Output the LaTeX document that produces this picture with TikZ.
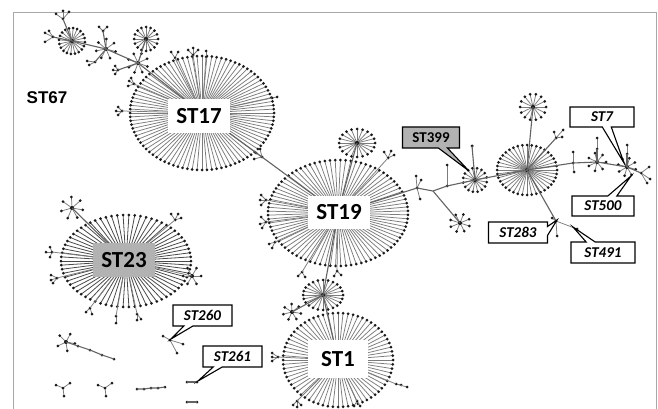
\documentclass[tikz,border=0pt]{standalone}
\usepackage{fontspec}
\setmainfont{Carlito}
\newfontfamily\arialf{Liberation Sans}
\usetikzlibrary{shapes.callouts}
\definecolor{spk}{HTML}{7C7C7C}
\definecolor{dspk}{HTML}{4A4A4A}
\definecolor{lblgray}{HTML}{B2B2B2}
\definecolor{frm}{HTML}{A8A8A8}
\definecolor{dotc}{HTML}{1A1A1A}
\tikzset{
  spoke/.style={draw=spk, line width=0.75pt},
  link/.style={draw=spk!80!black, line width=1.1pt},
  frameline/.style={draw=frm, line width=0.9pt},
  biglbl/.style={font=\bfseries\fontsize{23}{23}\selectfont, inner sep=0pt, text height=15pt, text depth=0pt},
  cbox/.style={rectangle callout, draw=black, line width=1.1pt, fill=white, inner sep=0pt,
     minimum width=60pt, minimum height=20pt, callout pointer width=9pt,
     font=\bfseries\itshape\fontsize{15}{15}\selectfont},
}
\newcommand\hubstar[8][spoke]{% name x y n rx ry phase
  \coordinate (#2) at (#3,#4);
  \foreach \k in {1,...,#5}{%
    \pgfmathsetmacro\ang{#8+\k*(360/#5)}
    \path (#2) ++(\ang:#6 and #7) coordinate (tp);
    \draw[#1] (#2) -- (tp);
    \fill[dotc] (tp) circle (1.5);
  }
  \fill[dotc] (#2) circle (2);
}
\newcommand\twigs[4]{% name x y list of offsets
  \coordinate (#1) at (#2,#3);
  \foreach \dx/\dy in {#4}{%
    \draw[spoke] (#1) -- ++(\dx,\dy) coordinate (tp);
    \fill[dotc] (tp) circle (1.5);
  }
  \fill[dotc] (#1) circle (1.5);
}
\newcommand\leafdot[3]{\coordinate (#1) at (#2,#3); \fill[dotc] (#1) circle (1.5);}
\begin{document}
\begin{tikzpicture}[x=1pt,y=-1pt]
\useasboundingbox (0,0) rectangle (658,409);
\clip (0,0) rectangle (658,409);
\fill[white] (0,0) rectangle (658,409);
\draw[frameline] (13,412) -- (13,12) -- (656,12) -- (656,412);

% ---------- upper-left cluster ----------
\hubstar{A}{72}{41}{20}{13}{13}{5}
\twigs{A1}{53}{37}{-8/-4,-8/5,-4/-6}
\twigs{A2}{63}{19}{-7/-5,6/-7,0/-8}
\hubstar{B}{106}{49}{7}{10}{10}{15}
\twigs{B1}{103}{31}{-4/-4,4/-4}
\twigs{B2}{95}{62}{-6/3,-8/-1}
\hubstar{C}{146}{39}{16}{12}{12}{0}
\hubstar{D}{138}{63}{8}{10}{10}{20}
\twigs{D1}{118}{70}{-5/0,-3/4,-3/-4}
\draw[link] (A) -- (A1);
\draw[link] (A) -- (A2);
\draw[link] (A) -- (B);
\draw[link] (B) -- (B1);
\draw[link] (B) -- (B2);
\draw[link] (B) -- (D);
\draw[link] (D) -- (C);
\draw[link] (D) -- (D1);

% ---------- ST17 ----------
\hubstar{H17}{202}{113}{92}{72}{57}{0}
\draw[link] (D) -- (H17);
\twigs{E17a}{122}{111}{-4/-4,-4/4,-6/0}
\twigs{E17b}{134}{84}{-5/-3,-3/-6,-6/2}
\twigs{E17c}{175}{58}{-4/-6,3/-6}
\twigs{E17d}{193}{55}{-5/-5,0/-7,5/-5}
\twigs{E17e}{206}{57}{0/-6}
\twigs{E17f}{272}{98}{5/-1}
\foreach \e in {E17a,E17b,E17c,E17d,E17e,E17f}{\draw[spoke] (H17) -- (\e);}

% ---------- ST19 ----------
\twigs{M1}{262}{157}{-6/-4,-2/-8,-8/2}
\hubstar{H19}{338}{213}{84}{70}{53}{2}
\draw[link] (H17) -- (M1);
\draw[link] (M1) -- (H19);
\hubstar{T}{357}{143}{20}{18}{14}{0}
\draw[link] (T) -- (H19);
\twigs{E19a}{388}{158}{-4/-6,3/-7,6/-3}
\twigs{E19b}{266}{200}{-5/-5,-6/0,-5/5}
\twigs{E19c}{266}{222}{-5/-5,-6/2,-4/6}
\twigs{E19d}{275}{242}{-6/2,-3/6}
\twigs{E19e}{302}{272}{-4/4,3/5}
\twigs{E19f}{337}{271}{-3/5,4/4}
\foreach \e in {E19a,E19b,E19c,E19d,E19e,E19f}{\draw[spoke] (H19) -- (\e);}

% ---------- chain to the right ----------
\twigs{V1}{417}{188}{-1/-12,3/11,4/-8}
\coordinate (V2) at (433,191);
\twigs{V3}{447}{186}{0/-21}
\hubstar{E}{475}{180}{16}{12}{12}{10}
\twigs{E1}{472}{146}{0/0}
\hubstar{W}{460}{223}{8}{10}{9}{20}
\draw[link] (H19) -- (V1) -- (V2) -- (V3) -- (E);
\draw[link] (E) -- (E1);
\draw[link] (V2) -- (W);
\hubstar{F}{527}{170}{40}{30}{25}{0}
\draw[link] (E) -- (F);
\hubstar{G}{533}{107}{14}{13}{13}{0}
\draw[link] (F) -- (G);
\twigs{F1}{556}{138}{7/-8,6/-1,-2/-6}
\draw[link] (F) -- (F1);
\twigs{Hn}{556}{221}{1/15,-4/-3,21/8}
\draw[link] (F) -- (Hn);
\twigs{X}{573}{163}{0/-11,1/9}
\hubstar{I}{597}{162}{7}{9}{9}{0}
\twigs{I1}{597}{149}{0/-11}
\hubstar{J}{627}{167}{8}{9}{9}{15}
\twigs{J1}{641}{173}{8/-6,9/6,6/10}
\twigs{J2}{627}{154}{0/-9}
\draw[link] (F) -- (X) -- (I) -- (J) -- (J1);
\draw[link] (I) -- (I1);
\draw[link] (J) -- (J2);

% ---------- between ST19 and ST1 ----------
\hubstar{R}{323}{295}{24}{20}{15}{0}
\hubstar{S}{292}{312}{7}{9}{8}{10}
\hubstar{H1}{338}{360}{68}{55}{47}{0}
\draw[link] (H19) -- (R);
\draw[link] (R) -- (H1);
\draw[link] (S) -- (R);
\twigs{E1a}{278}{357}{-6/-4,-6/0,-6/4}
\twigs{E1b}{396}{384}{5/1,11/3}
\twigs{E1c}{297}{401}{-4/4,0/6,4/4}
\twigs{E1d}{357}{401}{-3/5,3/5}
\foreach \e in {E1a,E1b,E1c,E1d}{\draw[spoke] (H1) -- (\e);}

% ---------- ST23 ----------
\hubstar[draw=dspk, line width=0.8pt]{H23}{126}{261}{70}{65}{46}{0}
\hubstar{Y1}{72}{208}{7}{11}{11}{10}
\draw[link] (Y1) -- (H23);
\twigs{G1}{52}{252}{-6/0,-2/-5,-2/5}
\twigs{G2}{57}{278}{-6/-3,-4/5,-6/2}
\twigs{G3}{175}{220}{-4/-6,3/-6,6/-2}
\hubstar{G4}{192}{276}{6}{9}{9}{0}
\twigs{G5}{90}{308}{-4/4,2/6}
\twigs{G6}{116}{316}{0/7}
\twigs{G7}{137}{314}{0/6,4/5}
\foreach \e in {G1,G2,G3,G4,G5,G6,G7}{\draw[spoke] (H23) -- (\e);}

% ---------- small components ----------
\hubstar{K}{66}{342}{5}{9}{9}{10}
\leafdot{K1}{78}{346}\leafdot{K2}{90}{350}\leafdot{K3}{102}{355}\leafdot{K4}{114}{359}
\draw[link] (K) -- (K1) -- (K2) -- (K3) -- (K4);
\twigs{L}{63}{388}{-7/-3,7/-5,1/8}
\twigs{Mm}{105}{388}{-7/-3,7/-5,1/8}
\leafdot{N1}{137}{389}\leafdot{N2}{144}{389}\leafdot{N3}{151}{388}\leafdot{N4}{158}{388}\leafdot{N5}{165}{387}
\draw[link] (N1) -- (N2) -- (N3) -- (N4) -- (N5);
\twigs{O}{170}{340}{-7/-4,13/4,7/13}
\leafdot{P1}{187}{382}\leafdot{P2}{197}{382}
\draw[link] (P1) -- (P2);
\leafdot{Q1}{187}{402}\leafdot{Q2}{197}{402}
\draw[link] (Q1) -- (Q2);

% ---------- labels ----------
\node[biglbl, fill=white, minimum width=62pt, minimum height=34pt] (L17) at (199,116) {ST17};
\node[biglbl, fill=white, minimum width=62pt, minimum height=33pt] (L19) at (339,212) {ST19};
\node[biglbl, fill=white, minimum width=60pt, minimum height=38pt] (L1) at (338,359) {ST1};
\node[biglbl, fill=lblgray, minimum width=62pt, minimum height=34pt] (L23) at (124,260) {ST23};
\node[font=\arialf\bfseries\fontsize{17}{17}\selectfont, inner sep=0pt] (L67) at (47,98) {ST67};

\coordinate (p399) at (469,171);
\coordinate (p7) at (624,163);
\coordinate (p500) at (631,176);
\coordinate (p491) at (573,227);
\coordinate (p283) at (557,220);
\coordinate (p260) at (171,339);
\coordinate (p261) at (198,381);
\node[cbox, fill=lblgray, font=\bfseries\fontsize{15}{15}\selectfont, minimum width=57pt, minimum height=21pt, callout absolute pointer=(p399)] (c399) at (431,137.5) {ST399};
\node[cbox, minimum width=64pt, callout absolute pointer=(p7)] (c7) at (602,117) {ST7};
\node[cbox, minimum width=62pt, callout absolute pointer=(p500)] (c500) at (603,206) {ST500};
\node[cbox, minimum width=64pt, minimum height=21pt, callout absolute pointer=(p491)] (c491) at (603,252.5) {ST491};
\node[cbox, minimum width=59pt, minimum height=21pt, callout absolute pointer=(p283)] (c283) at (518,232.5) {ST283};
\node[cbox, minimum width=59pt, minimum height=21pt, callout absolute pointer=(p260)] (c260) at (202.5,315.5) {ST260};
\node[cbox, minimum width=59pt, minimum height=21pt, callout absolute pointer=(p261)] (c261) at (232.5,356.5) {ST261};
\end{tikzpicture}
\end{document}
